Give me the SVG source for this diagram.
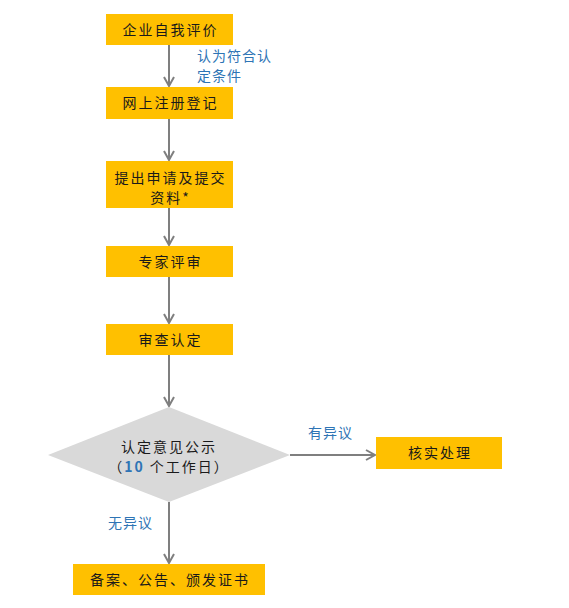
<svg xmlns="http://www.w3.org/2000/svg" width="569" height="608" viewBox="0 0 569 608">
<defs>
<style>
.box{fill:#ffc000;}
.dia{fill:#d9d9d9;}
.t{font-family:"Noto Sans CJK SC","Noto Sans",sans-serif;font-size:14px;fill:#1a1a1a;letter-spacing:2px;text-anchor:middle;}
.lbl{font-family:"Noto Sans CJK SC","Noto Sans",sans-serif;font-size:14px;fill:#2e74b5;letter-spacing:1px;}
.ln{stroke:#7f7f7f;stroke-width:2;fill:none;}
</style>
<marker id="ah" viewBox="0 0 12 12" refX="10" refY="6" markerWidth="12" markerHeight="12" markerUnits="userSpaceOnUse" orient="auto">
<path d="M1,1 L10,6 L1,11" fill="none" stroke="#7f7f7f" stroke-width="2"/>
</marker>
</defs>
<rect width="569" height="608" fill="#ffffff"/>
<g id="connectors">
<line class="ln" x1="169" y1="45" x2="169" y2="86" marker-end="url(#ah)"/>
<line class="ln" x1="169" y1="119" x2="169" y2="160" marker-end="url(#ah)"/>
<line class="ln" x1="169" y1="208" x2="169" y2="245" marker-end="url(#ah)"/>
<line class="ln" x1="169" y1="277" x2="169" y2="323" marker-end="url(#ah)"/>
<line class="ln" x1="169" y1="355" x2="169" y2="406" marker-end="url(#ah)"/>
<line class="ln" x1="290" y1="455" x2="375" y2="455" marker-end="url(#ah)"/>
<line class="ln" x1="169" y1="502" x2="169" y2="563" marker-end="url(#ah)"/>
<text class="lbl" x="197" y="61">认为符合认</text>
<text class="lbl" x="197" y="81">定条件</text>
<text class="lbl" x="308" y="438">有异议</text>
<text class="lbl" x="108" y="528">无异议</text>
</g>
<g id="n1"><rect class="box" x="106" y="14" width="127" height="31"/><text class="t" x="170.5" y="35">企业自我评价</text></g>
<g id="n2"><rect class="box" x="106" y="87" width="127" height="32"/><text class="t" x="170.5" y="108">网上注册登记</text></g>
<g id="n3"><rect class="box" x="106" y="161" width="127" height="47"/><text class="t" x="170.5" y="183">提出申请及提交</text><text class="t" x="170.5" y="203">资料*</text></g>
<g id="n4"><rect class="box" x="106" y="246" width="127" height="31"/><text class="t" x="170.5" y="267">专家评审</text></g>
<g id="n5"><rect class="box" x="106" y="324" width="127" height="31"/><text class="t" x="170.5" y="345">审查认定</text></g>
<g id="n6"><polygon class="dia" points="169,407 290,455 169,502 48,455"/><text class="t" x="169" y="452">认定意见公示</text><text class="t" x="169" y="472">（<tspan fill="#2e74b5" font-weight="bold">10</tspan> 个工作日）</text></g>
<g id="n7"><rect class="box" x="376" y="437" width="126" height="32"/><text class="t" x="440" y="458">核实处理</text></g>
<g id="n8"><rect class="box" x="73" y="564" width="192" height="31"/><text class="t" x="170" y="585">备案、公告、颁发证书</text></g>
</svg>
